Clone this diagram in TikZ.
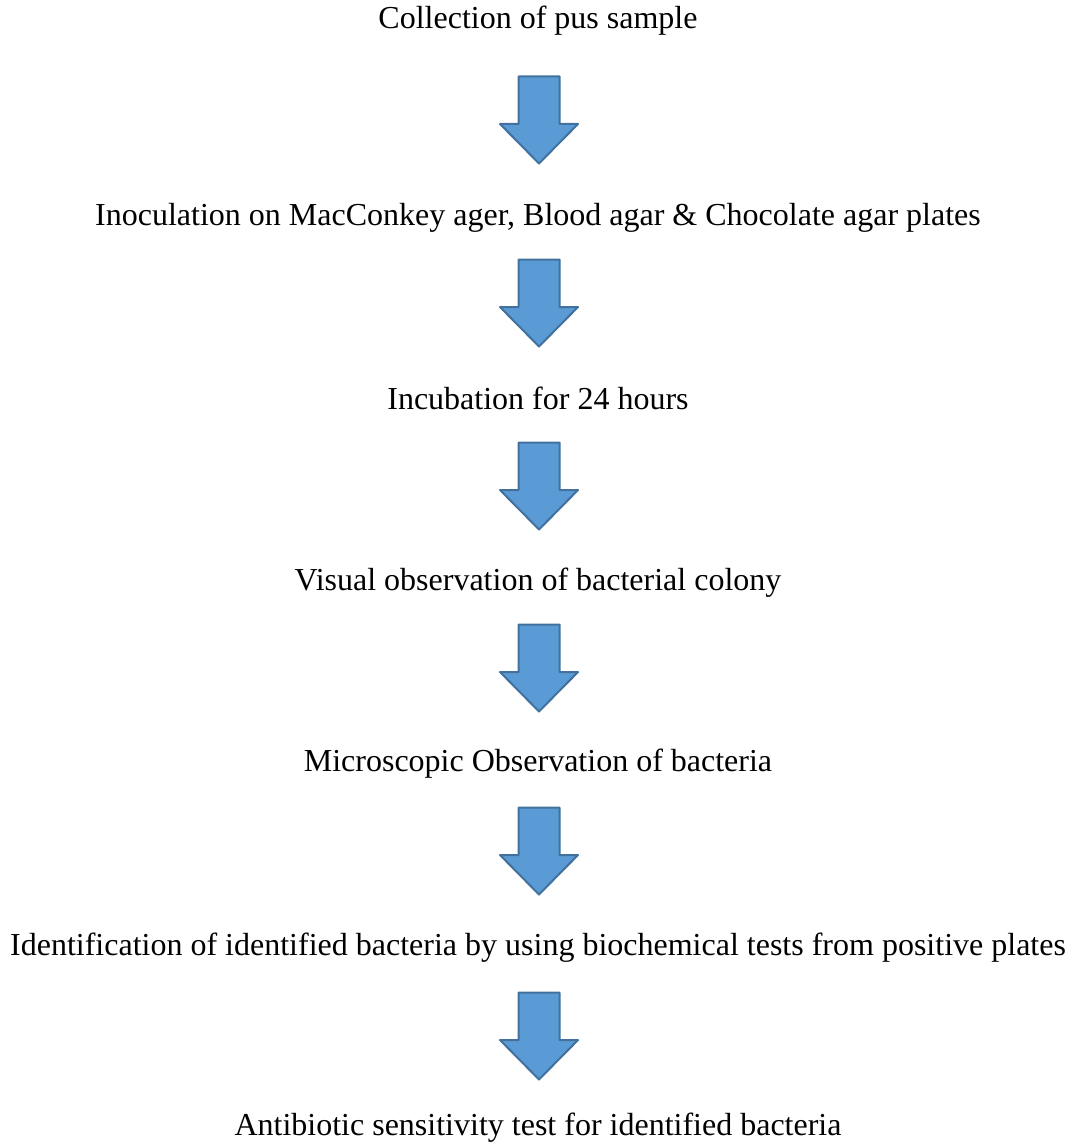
\documentclass[tikz,border=0pt]{standalone}
\usepackage{fontspec}
\setmainfont{Liberation Serif}
\usetikzlibrary{calc}

\definecolor{arrowfill}{HTML}{5B9BD5}
\definecolor{arrowline}{HTML}{41719C}

\tikzset{
  steptext/.style={font=\fontsize{16}{19}\selectfont, inner sep=0pt, anchor=base},
  downarrow/.pic={
    \draw[fill=arrowfill, draw=arrowline, line width=1pt, line join=round]
      (-10.25pt,21.75pt) -- (10.25pt,21.75pt) -- (10.25pt,-2pt) -- (19.5pt,-2pt)
      -- (0pt,-21.75pt) -- (-19.5pt,-2pt) -- (-10.25pt,-2pt) -- cycle;
  }
}

\begin{document}
\begin{tikzpicture}[x=0.5pt,y=-0.5pt]
\useasboundingbox (0,0) rectangle (1072,1145);

% steps
\node[steptext] (collect) at (538,29) {Collection of pus sample};
\node[steptext] (inoc) at (538,225) {Inoculation on MacConkey ager, Blood agar \& Chocolate agar plates};
\node[steptext] (incub) at (538,409) {Incubation for 24 hours};
\node[steptext] (visual) at (538,590) {Visual observation of bacterial colony};
\node[steptext] (micro) at (538,771) {Microscopic Observation of bacteria};
\node[steptext] (ident) at (538,955) {Identification of identified bacteria by using biochemical tests from positive plates};
\node[steptext] (sens) at (538,1135) {Antibiotic sensitivity test for identified bacteria};

% arrows between steps
\pic (arr1) at ($(collect.base)+(1,91)$) {downarrow};
\pic (arr2) at ($(inoc.base)+(1,78)$) {downarrow};
\pic (arr3) at ($(incub.base)+(1,77)$) {downarrow};
\pic (arr4) at ($(visual.base)+(1,78)$) {downarrow};
\pic (arr5) at ($(micro.base)+(1,80)$) {downarrow};
\pic (arr6) at ($(ident.base)+(1,81)$) {downarrow};
\end{tikzpicture}
\end{document}
